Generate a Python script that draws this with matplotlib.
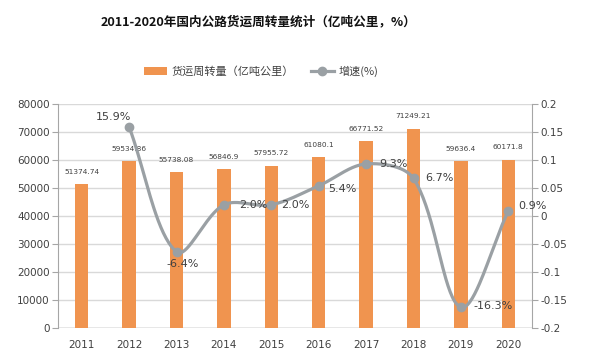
import numpy as np
import matplotlib
matplotlib.use("Agg")
from matplotlib import pyplot as plt

plt.rcParams['font.family'] = ['Noto Sans CJK SC', 'DejaVu Sans']

years = ['2011', '2012', '2013', '2014', '2015', '2016', '2017', '2018', '2019', '2020']
volume = [51374.74, 59534.86, 55738.08, 56846.9, 57955.72, 61080.1, 66771.52, 71249.21, 59636.4, 60171.8]
volume_labels = ['51374.74', '59534.86', '55738.08', '56846.9', '57955.72', '61080.1', '66771.52', '71249.21', '59636.4', '60171.8']
# growth starts in 2012
growth = [0.159, -0.064, 0.020, 0.020, 0.054, 0.093, 0.067, -0.163, 0.009]
growth_labels = ['15.9%', '-6.4%', '2.0%', '2.0%', '5.4%', '9.3%', '6.7%', '-16.3%', '0.9%']

bar_color = '#f0944f'
line_color = '#9aa0a4'
axis_color = '#a6a6a6'
latin = ['DejaVu Sans']


def smooth(axis, x, y, n=40):
    # bezier smoothing done in screen space, tangents weighted by segment length
    pts = axis.transData.transform(np.column_stack([x, y]))
    m = len(pts)
    out = []
    t = np.linspace(0, 1, n)[:, None]
    for i in range(m - 1):
        p1, p2 = pts[i], pts[i + 1]
        d = np.linalg.norm(p2 - p1)
        if i == 0:
            c1 = p1 + (p2 - p1) / 3
        else:
            p0 = pts[i - 1]
            dp = np.linalg.norm(p1 - p0)
            c1 = p1 + (p2 - p0) * d / (dp + d) / 3
        if i == m - 2:
            c2 = p2 - (p2 - p1) / 3
        else:
            p3 = pts[i + 2]
            dn = np.linalg.norm(p3 - p2)
            c2 = p2 - (p3 - p1) * d / (d + dn) / 3
        seg = ((1 - t) ** 3 * p1 + 3 * (1 - t) ** 2 * t * c1
               + 3 * (1 - t) * t ** 2 * c2 + t ** 3 * p2)
        out.append(seg)
    out = np.vstack(out)
    back = axis.transData.inverted().transform(out)
    return back[:, 0], back[:, 1]


fig = plt.figure(figsize=(6, 3.58), dpi=100)
ax = fig.add_axes([0.0967, 0.0838, 0.79, 0.6257])
ax2 = ax.twinx()

x = np.arange(len(years))
ax.bar(x, volume, width=0.28, color=bar_color, zorder=2, label='货运周转量（亿吨公里）')
for xi, v, s in zip(x, volume, volume_labels):
    ax.text(xi, v + 3300, s, ha='center', va='bottom', fontsize=5.3,
            color='#404040', family=latin)

ax.set_xlim(-0.5, len(years) - 0.5)
ax.set_ylim(0, 80000)
ax.set_yticks(np.arange(0, 80001, 10000))
ax.set_xticks(x)
ax.set_xticklabels(years)
ax.yaxis.grid(True, color='#d9d9d9', linewidth=1, zorder=0)
ax.set_axisbelow(True)

ax2.set_xlim(-0.5, len(years) - 0.5)
ax2.set_ylim(-0.2, 0.2)
gx = x[1:]
sx, sy = smooth(ax2, gx, growth)
ax2.plot(sx, sy, color=line_color, linewidth=2.3, solid_capstyle='round', zorder=3)
ax2.plot(gx, growth, 'o', color=line_color, markersize=6, zorder=4)
ax2.plot([], [], '-o', color=line_color, linewidth=2.3, markersize=6, label='增速(%)')
ax2.set_yticks([-0.2, -0.15, -0.1, -0.05, 0, 0.05, 0.1, 0.15, 0.2])
ax2.set_yticklabels(['-0.2', '-0.15', '-0.1', '-0.05', '0', '0.05', '0.1', '0.15', '0.2'])

offsets = [(-0.33, 0.008, 'center', 'bottom'), (0.12, -0.012, 'center', 'top'),
           (0.33, 0, 'left', 'center'), (0.2, 0, 'left', 'center'),
           (0.2, -0.006, 'left', 'center'), (0.27, 0.0, 'left', 'center'),
           (0.25, 0.001, 'left', 'center'), (0.27, 0.003, 'left', 'center'),
           (0.22, 0.008, 'left', 'center')]
for xi, g, s, (dx, dy, ha, va) in zip(gx, growth, growth_labels, offsets):
    ax2.text(xi + dx, g + dy, s, ha=ha, va=va, fontsize=8, color='#404040',
             family=latin)

for a in (ax, ax2):
    for side in ('top', 'bottom'):
        a.spines[side].set_visible(False)
    a.spines['left'].set_color(axis_color)
    a.spines['right'].set_color(axis_color)
    a.tick_params(colors='#404040', labelsize=7.5, color=axis_color, length=4, pad=2)
    for lab in a.get_yticklabels() + a.get_xticklabels():
        lab.set_family(latin)
ax.spines['right'].set_visible(False)
ax2.spines['left'].set_visible(False)
ax.tick_params(axis='x', length=0, pad=9)
ax.axhline(0, color=axis_color, linewidth=1, zorder=1)

fig.text(0.43, 0.94, '2011-2020年国内公路货运周转量统计（亿吨公里，%）', ha='center',
         va='center', fontsize=9.1, fontweight='bold', color='#111111')

h1, l1 = ax.get_legend_handles_labels()
h2, l2 = ax2.get_legend_handles_labels()
fig.legend(h1 + h2, l1 + l2, loc='center', bbox_to_anchor=(0.435, 0.8), ncol=2,
           frameon=False, fontsize=8, handlelength=2.1, handletextpad=0.4,
           columnspacing=1.5, labelcolor='#404040')

fig.savefig('out.png', dpi=100)
